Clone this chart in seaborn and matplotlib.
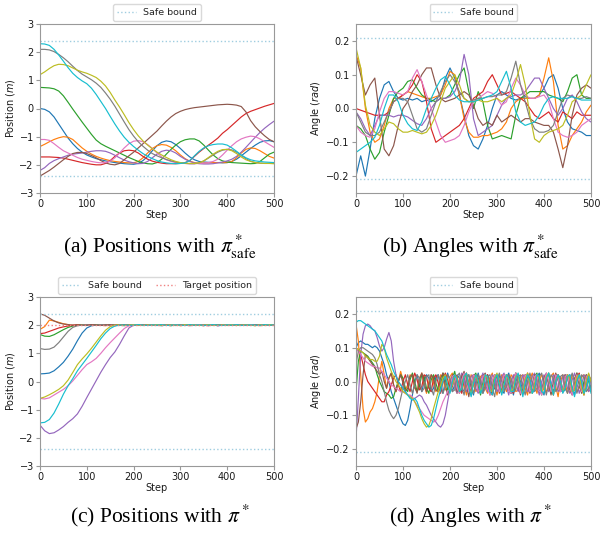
import numpy as np
import pandas as pd
import matplotlib
matplotlib.use("Agg")
import matplotlib.pyplot as plt
import seaborn as sns

# ---------------- data ----------------
run_names = ["r0", "r1", "r2", "r3", "r4", "r5", "r6", "r7", "r8", "r9"]
steps10 = list(range(0, 501, 10))   # sample steps for (a), (b), (c)
steps5 = list(range(0, 501, 5))     # sample steps for (d)
pos_bound = 2.4
ang_bound = 0.21
target_pos = 2.0

# (a) positions with pi*_safe
a_blue = [0.00, -0.03, -0.12, -0.30, -0.55, -0.80, -1.05, -1.25, -1.42, -1.55,
          -1.65, -1.72, -1.78, -1.82, -1.86, -1.89, -1.92, -1.94, -1.96, -1.97,
          -1.98, -1.95, -1.85, -1.70, -1.50, -1.32, -1.20, -1.15, -1.18, -1.28,
          -1.42, -1.58, -1.72, -1.82, -1.88, -1.90, -1.91, -1.92, -1.92, -1.93,
          -1.92, -1.88, -1.80, -1.68, -1.55, -1.42, -1.30, -1.20, -1.15, -1.14, -1.18]
a_orange = [-1.35, -1.27, -1.18, -1.10, -1.04, -1.00, -1.02, -1.10, -1.25, -1.40,
            -1.52, -1.62, -1.70, -1.76, -1.81, -1.85, -1.88, -1.90, -1.92, -1.93,
            -1.93, -1.88, -1.75, -1.58, -1.42, -1.32, -1.28, -1.30, -1.38, -1.50,
            -1.65, -1.78, -1.87, -1.92, -1.95, -1.94, -1.93, -1.92, -1.92, -1.92,
            -1.92, -1.88, -1.75, -1.58, -1.45, -1.40, -1.42, -1.50, -1.60, -1.70, -1.76]
a_green = [0.75, 0.74, 0.73, 0.70, 0.62, 0.45, 0.22, -0.02, -0.25, -0.48,
           -0.70, -0.92, -1.12, -1.25, -1.34, -1.42, -1.50, -1.58, -1.66, -1.74,
           -1.81, -1.88, -1.93, -1.96, -1.97, -1.92, -1.80, -1.62, -1.45, -1.30,
           -1.18, -1.11, -1.08, -1.08, -1.15, -1.30, -1.48, -1.65, -1.78, -1.86,
           -1.90, -1.92, -1.93, -1.94, -1.95, -1.96, -1.95, -1.88, -1.75, -1.62, -1.55]
a_red = [-1.72, -1.72, -1.72, -1.73, -1.74, -1.76, -1.80, -1.84, -1.88, -1.92,
         -1.95, -1.98, -2.00, -2.00, -1.95, -1.85, -1.70, -1.58, -1.50, -1.48,
         -1.50, -1.58, -1.70, -1.80, -1.87, -1.91, -1.94, -1.96, -1.96, -1.96,
         -1.95, -1.92, -1.85, -1.70, -1.55, -1.42, -1.30, -1.18, -1.05, -0.88,
         -0.75, -0.60, -0.45, -0.30, -0.18, -0.10, -0.04, 0.02, 0.08, 0.13, 0.18]
a_purple = [-2.20, -2.10, -1.95, -1.85, -1.78, -1.72, -1.66, -1.62, -1.60, -1.58,
            -1.55, -1.52, -1.50, -1.50, -1.52, -1.58, -1.66, -1.75, -1.83, -1.89,
            -1.93, -1.96, -1.95, -1.88, -1.75, -1.62, -1.52, -1.48, -1.50, -1.58,
            -1.70, -1.80, -1.88, -1.93, -1.96, -1.97, -1.97, -1.96, -1.93, -1.90,
            -1.86, -1.80, -1.70, -1.55, -1.38, -1.20, -1.02, -0.85, -0.70, -0.57, -0.45]
a_brown = [-2.40, -2.30, -2.20, -2.08, -1.95, -1.82, -1.70, -1.60, -1.56, -1.56,
           -1.60, -1.67, -1.75, -1.85, -1.93, -1.98, -2.00, -1.95, -1.82, -1.68,
           -1.55, -1.40, -1.25, -1.10, -0.95, -0.80, -0.62, -0.45, -0.30, -0.18,
           -0.10, -0.04, 0.00, 0.03, 0.05, 0.07, 0.09, 0.11, 0.13, 0.14,
           0.15, 0.14, 0.12, 0.07, -0.12, -0.43, -0.65, -0.82, -0.97, -1.10, -1.18]
a_pink = [-1.10, -1.10, -1.13, -1.25, -1.38, -1.50, -1.58, -1.66, -1.74, -1.80,
          -1.84, -1.88, -1.91, -1.93, -1.92, -1.87, -1.75, -1.58, -1.40, -1.25,
          -1.16, -1.14, -1.18, -1.28, -1.42, -1.58, -1.72, -1.82, -1.88, -1.92,
          -1.94, -1.95, -1.96, -1.96, -1.95, -1.94, -1.92, -1.88, -1.80, -1.65,
          -1.48, -1.32, -1.18, -1.08, -1.02, -0.98, -1.00, -1.08, -1.18, -1.28, -1.38]
a_gray = [2.10, 2.10, 2.08, 2.02, 1.92, 1.80, 1.66, 1.50, 1.35, 1.22,
          1.12, 1.02, 0.90, 0.75, 0.55, 0.33, 0.08, -0.20, -0.48, -0.75,
          -0.98, -1.18, -1.34, -1.48, -1.60, -1.68, -1.75, -1.81, -1.86, -1.90,
          -1.93, -1.95, -1.96, -1.96, -1.93, -1.86, -1.76, -1.65, -1.55, -1.48,
          -1.45, -1.47, -1.55, -1.66, -1.78, -1.87, -1.92, -1.94, -1.95, -1.95, -1.95]
a_olive = [1.20, 1.30, 1.42, 1.52, 1.57, 1.56, 1.52, 1.44, 1.36, 1.30,
           1.25, 1.18, 1.10, 0.97, 0.80, 0.57, 0.30, 0.05, -0.22, -0.50,
           -0.75, -0.97, -1.15, -1.30, -1.43, -1.55, -1.65, -1.74, -1.82, -1.88,
           -1.92, -1.94, -1.95, -1.95, -1.93, -1.86, -1.74, -1.62, -1.52, -1.46,
           -1.45, -1.50, -1.60, -1.72, -1.82, -1.88, -1.92, -1.94, -1.95, -1.95, -1.96]
a_cyan = [2.30, 2.29, 2.24, 2.10, 1.90, 1.68, 1.45, 1.25, 1.10, 0.98,
          0.88, 0.72, 0.50, 0.25, 0.00, -0.28, -0.55, -0.80, -1.02, -1.20,
          -1.35, -1.48, -1.60, -1.70, -1.78, -1.85, -1.90, -1.93, -1.95, -1.96,
          -1.95, -1.93, -1.85, -1.68, -1.52, -1.40, -1.32, -1.28, -1.26, -1.26,
          -1.30, -1.40, -1.52, -1.65, -1.75, -1.82, -1.86, -1.88, -1.90, -1.91, -1.92]

# (b) angles with pi*_safe
b_blue = [-0.20, -0.14, -0.20, -0.12, -0.03, 0.03, 0.07, 0.08, 0.05, 0.03,
          0.025, 0.03, 0.025, 0.03, 0.02, 0.025, 0.02, 0.03, 0.04, 0.09,
          0.12, 0.09, 0.04, -0.02, -0.08, -0.11, -0.12, -0.09, -0.05, 0.00,
          0.04, 0.05, 0.04, 0.03, 0.025, 0.03, 0.035, 0.03, 0.03, 0.04,
          0.06, 0.09, 0.10, 0.06, 0.00, -0.04, -0.06, -0.065, -0.07, -0.08, -0.08]
b_orange = [0.16, 0.12, 0.00, -0.07, -0.10, -0.09, -0.05, 0.00, 0.03, 0.03,
            0.04, 0.05, 0.045, 0.04, 0.035, 0.03, 0.03, 0.035, 0.04, 0.07,
            0.11, 0.10, 0.04, -0.03, -0.07, -0.085, -0.085, -0.08, -0.08, -0.075,
            -0.07, -0.06, -0.04, 0.00, 0.02, 0.03, 0.03, 0.03, 0.03, 0.04,
            0.09, 0.15, 0.08, -0.05, -0.12, -0.11, -0.08, -0.06, -0.04, -0.01, 0.01]
b_green = [-0.05, -0.06, -0.08, -0.12, -0.15, -0.13, -0.07, -0.02, 0.03, 0.05,
           0.06, 0.08, 0.085, 0.06, 0.04, 0.03, 0.025, 0.02, 0.03, 0.03,
           0.04, 0.07, 0.10, 0.12, 0.05, 0.00, 0.05, 0.02, -0.05, -0.09,
           -0.085, -0.08, -0.085, -0.09, -0.02, 0.03, 0.04, 0.05, 0.05, 0.05,
           0.05, 0.04, 0.035, 0.03, 0.02, 0.05, 0.09, 0.10, 0.04, 0.03, 0.03]
b_red = [0.00, -0.005, -0.01, -0.015, -0.02, -0.02, -0.02, -0.01, 0.02, 0.03,
         0.04, 0.05, 0.07, 0.10, 0.08, 0.02, -0.06, -0.10, -0.09, -0.08,
         -0.07, -0.06, -0.05, -0.03, 0.00, 0.03, 0.04, 0.05, 0.08, 0.10,
         0.07, 0.04, 0.045, 0.05, 0.04, 0.03, 0.02, 0.00, -0.02, -0.03,
         -0.02, -0.01, -0.03, -0.04, -0.01, -0.02, -0.03, -0.01, -0.02, -0.02, -0.02]
b_purple = [-0.01, -0.03, -0.06, -0.08, -0.05, -0.02, -0.02, -0.02, -0.025, -0.02,
            -0.02, -0.025, -0.035, -0.045, -0.05, -0.03, 0.00, 0.02, 0.03, 0.03,
            0.035, 0.05, 0.08, 0.16, 0.10, -0.03, -0.08, -0.07, -0.06, -0.05,
            -0.02, 0.01, 0.03, 0.035, 0.04, 0.04, 0.05, 0.07, 0.09, 0.09,
            0.06, 0.03, 0.00, -0.02, 0.00, 0.03, 0.04, 0.02, -0.01, -0.03, -0.04]
b_brown = [0.155, 0.10, 0.04, 0.07, 0.09, -0.02, -0.12, -0.14, -0.11, -0.05,
           0.00, 0.02, 0.05, 0.07, 0.10, 0.12, 0.12, 0.07, 0.03, 0.02,
           0.025, 0.03, 0.04, 0.05, 0.04, 0.01, -0.03, -0.05, -0.04, -0.05,
           -0.02, -0.04, -0.03, -0.02, -0.03, -0.04, -0.03, -0.03, -0.04, -0.045,
           -0.05, -0.05, -0.07, -0.12, -0.175, -0.11, -0.02, 0.04, 0.06, 0.07, 0.06]
b_pink = [-0.05, -0.07, -0.08, -0.085, -0.06, -0.01, 0.03, 0.05, 0.05, 0.045,
          0.04, 0.05, 0.09, 0.115, 0.08, 0.04, 0.00, -0.04, -0.08, -0.10,
          -0.095, -0.09, -0.08, -0.05, -0.01, 0.02, 0.03, 0.04, 0.05, 0.045,
          0.03, 0.01, 0.02, 0.06, 0.09, 0.07, 0.04, 0.03, 0.03, 0.035,
          0.04, 0.02, -0.03, -0.07, -0.08, -0.085, -0.08, -0.07, -0.05, -0.04, -0.03]
b_gray = [-0.01, -0.04, -0.07, -0.08, -0.08, -0.07, -0.04, -0.01, 0.02, 0.03,
          0.03, 0.02, -0.02, -0.06, -0.07, -0.06, -0.02, 0.02, 0.05, 0.08,
          0.10, 0.08, 0.05, 0.03, 0.02, 0.025, 0.03, 0.03, 0.035, 0.035,
          0.04, 0.04, 0.05, 0.09, 0.14, 0.07, 0.02, -0.03, -0.06, -0.07,
          -0.07, -0.065, -0.05, -0.01, 0.03, 0.04, 0.035, 0.03, 0.03, 0.035, 0.03]
b_olive = [0.18, 0.12, 0.01, -0.05, -0.07, -0.08, -0.06, -0.04, -0.045, -0.06,
           -0.07, -0.07, -0.065, -0.07, -0.075, -0.07, -0.05, -0.02, 0.02, 0.06,
           0.08, 0.10, 0.07, 0.03, 0.02, 0.02, 0.025, 0.02, 0.02, 0.025,
           0.03, 0.02, 0.03, 0.04, 0.08, 0.13, 0.07, -0.02, -0.09, -0.10,
           -0.08, -0.07, -0.065, -0.06, -0.05, -0.02, 0.02, 0.03, 0.04, 0.07, 0.10]
b_cyan = [-0.13, -0.12, -0.11, -0.10, -0.085, -0.05, 0.00, 0.04, 0.04, 0.02,
          -0.02, -0.045, -0.06, -0.065, -0.04, 0.00, 0.03, 0.06, 0.085, 0.095,
          0.07, 0.04, 0.025, 0.02, 0.02, 0.02, 0.025, 0.03, 0.035, 0.04,
          0.05, 0.08, 0.11, 0.06, -0.01, -0.04, -0.05, -0.045, -0.04, -0.02,
          0.01, 0.03, 0.035, 0.03, 0.03, 0.03, 0.035, 0.03, 0.025, 0.025, 0.025]

# (c) positions with pi*
c_blue = [0.27, 0.28, 0.30, 0.38, 0.52, 0.68, 0.90, 1.15, 1.45, 1.72,
          1.90, 1.98, 2.00, 2.01, 1.99, 2.00, 2.02, 1.99, 2.00, 2.01,
          1.99, 2.02, 2.00, 1.99, 2.01, 2.00, 1.98, 2.01, 2.02, 1.99,
          2.00, 2.01, 1.99, 2.00, 2.02, 1.99, 2.00, 2.01, 1.98, 2.00,
          2.02, 2.00, 1.99, 2.01, 2.00, 1.99, 2.02, 2.00, 1.99, 2.01, 2.00]
c_orange = [1.85, 1.95, 2.18, 2.15, 2.10, 2.05, 2.02, 1.99, 2.01, 2.00,
            1.99, 2.01, 2.02, 2.00, 1.98, 2.01, 2.00, 2.02, 1.99, 2.00,
            2.01, 1.99, 2.02, 2.00, 1.99, 2.01, 2.02, 1.99, 2.00, 2.01,
            1.98, 2.00, 2.02, 2.01, 1.99, 2.00, 2.01, 1.99, 2.02, 2.00,
            1.99, 2.01, 2.00, 2.02, 1.99, 2.00, 2.01, 1.98, 2.00, 2.02, 2.00]
c_green = [1.67, 1.61, 1.60, 1.66, 1.75, 1.84, 1.92, 1.97, 2.00, 2.01,
           1.99, 2.00, 2.02, 1.99, 2.01, 2.00, 1.98, 2.01, 2.02, 2.00,
           1.99, 2.01, 2.00, 2.02, 1.99, 2.00, 2.01, 2.00, 1.98, 2.01,
           2.02, 1.99, 2.00, 2.01, 1.99, 2.02, 2.00, 1.99, 2.01, 2.00,
           2.02, 1.99, 2.00, 2.01, 1.99, 2.00, 2.02, 2.00, 1.99, 2.01, 2.00]
c_red = [1.70, 1.72, 1.78, 1.84, 1.90, 1.94, 1.97, 2.00, 2.01, 1.99,
         2.01, 2.02, 1.99, 2.00, 2.01, 1.98, 2.00, 2.02, 2.01, 1.99,
         2.00, 2.02, 1.99, 2.01, 2.00, 1.99, 2.02, 2.00, 2.01, 1.99,
         2.00, 2.02, 1.99, 2.00, 2.01, 2.00, 1.98, 2.01, 2.00, 2.02,
         1.99, 2.00, 2.01, 1.99, 2.02, 2.00, 1.99, 2.01, 2.00, 1.99, 2.01]
c_purple = [-1.55, -1.75, -1.85, -1.82, -1.72, -1.60, -1.45, -1.32, -1.15, -0.88,
            -0.57, -0.27, 0.03, 0.33, 0.60, 0.85, 1.05, 1.32, 1.62, 1.90,
            2.00, 2.01, 1.99, 2.02, 2.00, 1.99, 2.01, 2.00, 2.02, 1.99,
            2.00, 2.01, 1.98, 2.00, 2.02, 2.00, 1.99, 2.01, 2.00, 2.02,
            1.99, 2.00, 2.01, 1.99, 2.02, 2.00, 1.99, 2.01, 2.00, 2.02, 2.00]
c_brown = [2.40, 2.35, 2.25, 2.15, 2.08, 2.04, 2.02, 2.00, 2.01, 1.99,
           2.00, 2.02, 2.00, 1.99, 2.01, 2.02, 2.00, 1.99, 2.01, 2.00,
           2.02, 1.99, 2.00, 2.01, 1.99, 2.02, 2.00, 2.01, 1.99, 2.00,
           2.02, 2.00, 1.99, 2.01, 2.00, 1.98, 2.02, 2.00, 2.01, 1.99,
           2.00, 2.02, 1.99, 2.00, 2.01, 2.00, 1.99, 2.02, 2.00, 2.01, 1.99]
c_pink = [-0.60, -0.62, -0.58, -0.48, -0.38, -0.28, -0.15, 0.02, 0.22, 0.42,
          0.60, 0.70, 0.82, 1.00, 1.20, 1.38, 1.55, 1.72, 1.88, 1.98,
          2.00, 2.01, 1.99, 2.00, 2.02, 1.99, 2.01, 2.00, 1.99, 2.02,
          2.00, 1.99, 2.01, 2.00, 2.02, 2.00, 1.99, 2.01, 1.98, 2.00,
          2.02, 2.00, 1.99, 2.01, 2.00, 2.02, 1.99, 2.00, 2.01, 1.99, 2.00]
c_gray = [1.17, 1.14, 1.15, 1.22, 1.38, 1.58, 1.78, 1.92, 1.98, 2.00,
          2.01, 1.99, 2.00, 2.02, 2.00, 1.99, 2.01, 2.00, 1.98, 2.01,
          2.00, 2.02, 1.99, 2.00, 2.01, 1.99, 2.00, 2.02, 2.00, 1.99,
          2.01, 2.00, 2.02, 1.99, 2.00, 2.01, 2.00, 1.99, 2.02, 2.00,
          2.01, 1.99, 2.00, 2.02, 2.00, 1.99, 2.01, 2.00, 2.02, 1.99, 2.00]
c_olive = [-0.60, -0.55, -0.47, -0.38, -0.28, -0.15, 0.05, 0.32, 0.60, 0.80,
           0.98, 1.18, 1.40, 1.62, 1.82, 1.95, 2.00, 2.01, 1.99, 2.00,
           2.02, 2.00, 1.99, 2.01, 2.00, 2.02, 1.99, 2.00, 2.01, 2.00,
           1.99, 2.02, 2.00, 2.01, 1.99, 2.00, 2.02, 2.00, 1.99, 2.01,
           2.00, 2.02, 1.99, 2.00, 2.01, 2.00, 1.98, 2.01, 2.00, 2.02, 2.00]
c_cyan = [-1.47, -1.45, -1.35, -1.12, -0.80, -0.45, -0.15, 0.10, 0.38, 0.60,
          0.82, 1.05, 1.28, 1.52, 1.72, 1.88, 1.97, 2.00, 2.01, 1.99,
          2.00, 2.02, 2.00, 1.99, 2.01, 2.00, 2.02, 1.99, 2.00, 2.01,
          2.00, 1.99, 2.02, 2.00, 2.01, 1.99, 2.00, 2.02, 2.00, 1.99,
          2.01, 2.00, 2.02, 1.99, 2.00, 2.01, 2.00, 1.99, 2.02, 2.00, 2.01]

# (d) angles with pi*
d_blue = [0.10, 0.115, 0.12, 0.115, 0.11, 0.11, 0.105, 0.10, 0.105, 0.10,
          0.09, 0.07, 0.05, 0.02, 0.00, -0.03, -0.05, -0.07, -0.09, -0.11,
          -0.125, -0.13, -0.115, -0.08, -0.04, 0.00, 0.02, -0.01, -0.03, 0.00,
          0.02, 0.01, -0.03, -0.02, 0.015, 0.02, -0.02, -0.035, 0.00, 0.025,
          0.00, -0.03, -0.01, 0.02, 0.01, -0.03, -0.025, 0.015, 0.02, -0.02,
          -0.04, 0.00, 0.025, -0.005, -0.035, -0.01, 0.02, 0.005, -0.03, -0.02,
          0.015, 0.02, -0.025, -0.035, 0.01, 0.025, -0.01, -0.04, 0.00, 0.02,
          0.00, -0.03, -0.015, 0.02, 0.01, -0.035, -0.02, 0.015, 0.025, -0.02,
          -0.04, 0.005, 0.025, -0.005, -0.03, -0.01, 0.02, 0.01, -0.03, -0.025,
          0.015, 0.02, -0.02, -0.04, 0.00, 0.02, -0.005, -0.035, -0.01, 0.02,
          0.00]
d_orange = [0.17, 0.12, 0.02, -0.08, -0.12, -0.11, -0.09, -0.08, -0.06, -0.03,
            0.02, 0.06, 0.02, -0.02, 0.01, 0.025, -0.01, -0.03, 0.00, 0.03,
            0.005, -0.025, -0.01, 0.02, 0.015, -0.02, -0.03, 0.01, 0.025, -0.01,
            -0.035, 0.00, 0.02, -0.005, -0.03, -0.015, 0.02, 0.01, -0.025, -0.02,
            0.015, 0.025, -0.015, -0.035, 0.005, 0.02, -0.01, -0.04, -0.005, 0.02,
            0.005, -0.03, -0.02, 0.015, 0.02, -0.02, -0.035, 0.01, 0.025, -0.01,
            -0.04, -0.005, 0.02, 0.00, -0.03, -0.015, 0.02, 0.01, -0.03, -0.025,
            0.015, 0.02, -0.02, -0.04, 0.005, 0.025, -0.01, -0.035, 0.00, 0.02,
            0.005, -0.03, -0.02, 0.015, 0.025, -0.015, -0.045, 0.00, 0.02, -0.005,
            -0.035, -0.01, 0.02, 0.01, -0.03, -0.02, 0.015, 0.02, -0.02, -0.03,
            0.01]
d_green = [-0.03, 0.06, 0.09, 0.085, 0.08, 0.075, 0.065, 0.055, 0.045, 0.02,
           0.00, -0.015, -0.03, -0.035, -0.04, -0.05, -0.045, -0.02, 0.00, 0.02,
           0.01, -0.02, -0.03, 0.005, 0.025, 0.00, -0.03, -0.015, 0.02, 0.015,
           -0.02, -0.035, 0.005, 0.02, -0.005, -0.03, -0.01, 0.025, 0.015, -0.025,
           -0.03, 0.01, 0.03, -0.005, -0.035, -0.01, 0.02, 0.01, -0.03, -0.02,
           0.015, 0.025, -0.015, -0.04, 0.00, 0.02, 0.00, -0.03, -0.015, 0.02,
           0.015, -0.025, -0.03, 0.01, 0.02, -0.01, -0.035, 0.00, 0.025, 0.00,
           -0.03, -0.015, 0.02, 0.01, -0.03, -0.02, 0.015, 0.025, -0.015, -0.04,
           0.00, 0.02, -0.005, -0.035, -0.01, 0.02, 0.01, -0.03, -0.025, 0.015,
           0.02, -0.02, -0.035, 0.005, 0.025, -0.01, -0.03, 0.00, 0.02, 0.00,
           -0.03]
d_red = [0.10, 0.09, 0.08, 0.05, 0.02, 0.00, -0.01, -0.02, -0.03, -0.04,
         -0.05, -0.06, -0.06, -0.04, -0.03, -0.01, 0.01, 0.02, -0.01, -0.03,
         0.00, 0.02, -0.01, -0.03, 0.00, 0.025, 0.005, -0.025, -0.015, 0.02,
         0.015, -0.02, -0.03, 0.01, 0.02, -0.005, -0.035, 0.00, 0.025, 0.005,
         -0.03, -0.015, 0.02, 0.015, -0.02, -0.035, 0.005, 0.025, -0.005, -0.03,
         -0.01, 0.02, 0.01, -0.03, -0.025, 0.015, 0.02, -0.015, -0.04, 0.00,
         0.02, 0.00, -0.03, -0.015, 0.02, 0.015, -0.025, -0.035, 0.01, 0.02,
         -0.01, -0.035, 0.00, 0.025, 0.00, -0.03, -0.015, 0.02, 0.01, -0.03,
         -0.02, 0.015, 0.02, -0.02, -0.04, 0.005, 0.02, -0.005, -0.03, -0.01,
         0.02, 0.01, -0.03, -0.025, 0.015, 0.025, -0.015, -0.04, 0.00, 0.02,
         0.00]
d_purple = [-0.17, -0.05, 0.08, 0.14, 0.165, 0.17, 0.165, 0.155, 0.15, 0.13,
            0.105, 0.09, 0.10, 0.125, 0.145, 0.12, 0.06, 0.02, 0.00, -0.01,
            -0.02, -0.03, -0.04, -0.045, -0.05, -0.05, -0.045, -0.04, -0.045, -0.06,
            -0.07, -0.085, -0.10, -0.11, -0.12, -0.13, -0.135, -0.125, -0.10, -0.06,
            -0.02, 0.01, -0.015, -0.035, 0.00, 0.025, 0.005, -0.03, -0.02, 0.015,
            0.02, -0.02, -0.035, 0.005, 0.025, -0.005, -0.03, -0.01, 0.02, 0.01,
            -0.03, -0.02, 0.015, 0.025, -0.015, -0.04, 0.00, 0.02, 0.00, -0.03,
            -0.015, 0.02, 0.01, -0.03, -0.025, 0.015, 0.025, -0.015, -0.04, 0.00,
            0.02, 0.00, -0.03, -0.015, 0.02, 0.01, -0.03, -0.02, 0.015, 0.02,
            -0.02, -0.035, 0.005, 0.025, -0.005, -0.035, -0.01, 0.02, 0.01, -0.03,
            -0.02]
d_brown = [-0.14, -0.12, -0.06, 0.02, 0.08, 0.07, 0.06, 0.05, 0.04, 0.03,
           0.02, 0.03, 0.00, -0.02, 0.01, 0.025, -0.01, -0.03, 0.00, 0.02,
           -0.005, -0.03, -0.02, 0.015, 0.02, -0.015, -0.035, 0.005, 0.025, -0.005,
           -0.03, -0.01, 0.02, 0.01, -0.025, -0.03, 0.01, 0.025, -0.01, -0.04,
           -0.005, 0.02, 0.01, -0.03, -0.02, 0.015, 0.03, -0.01, -0.045, -0.005,
           0.02, 0.005, -0.03, -0.02, 0.015, 0.025, -0.015, -0.04, 0.00, 0.02,
           0.005, -0.035, -0.02, 0.02, 0.015, -0.025, -0.035, 0.01, 0.025, -0.01,
           -0.04, -0.005, 0.02, 0.00, -0.035, -0.015, 0.02, 0.015, -0.025, -0.03,
           0.01, 0.025, -0.01, -0.04, 0.00, 0.025, 0.005, -0.03, -0.02, 0.02,
           0.015, -0.025, -0.04, 0.005, 0.025, -0.005, -0.035, -0.01, 0.02, 0.01,
           -0.02]
d_pink = [0.10, 0.09, 0.08, 0.07, 0.06, 0.055, 0.05, 0.045, 0.045, 0.04,
          0.04, 0.03, 0.02, 0.01, 0.00, -0.01, -0.015, -0.02, -0.025, -0.03,
          -0.03, -0.035, -0.04, -0.04, -0.045, -0.06, -0.07, -0.08, -0.09, -0.10,
          -0.105, -0.11, -0.115, -0.12, -0.115, -0.10, -0.08, -0.06, -0.045, -0.03,
          -0.02, 0.015, 0.02, -0.02, -0.035, 0.005, 0.025, -0.005, -0.03, -0.015,
          0.02, 0.01, -0.03, -0.025, 0.015, 0.02, -0.02, -0.04, 0.00, 0.02,
          0.00, -0.03, -0.015, 0.02, 0.015, -0.025, -0.035, 0.005, 0.025, -0.005,
          -0.035, -0.01, 0.02, 0.005, -0.03, -0.02, 0.015, 0.02, -0.02, -0.04,
          0.00, 0.025, 0.00, -0.03, -0.015, 0.02, 0.01, -0.03, -0.025, 0.015,
          0.02, -0.015, -0.04, 0.00, 0.02, 0.00, -0.03, -0.02, 0.015, 0.02,
          -0.01]
d_gray = [0.05, 0.09, 0.10, 0.10, 0.095, 0.09, 0.085, 0.08, 0.07, 0.05,
          0.02, 0.00, -0.03, -0.06, -0.085, -0.10, -0.11, -0.10, -0.08, -0.05,
          -0.02, 0.00, 0.02, -0.01, -0.035, -0.01, 0.02, 0.01, -0.03, -0.02,
          0.015, 0.02, -0.02, -0.04, 0.00, 0.02, 0.00, -0.035, -0.015, 0.02,
          0.01, -0.03, -0.025, 0.015, 0.025, -0.015, -0.04, 0.005, 0.02, -0.005,
          -0.035, -0.01, 0.02, 0.005, -0.035, -0.02, 0.015, 0.02, -0.02, -0.045,
          0.00, 0.025, 0.00, -0.03, -0.015, 0.02, 0.01, -0.03, -0.025, 0.015,
          0.02, -0.015, -0.04, 0.00, 0.025, 0.00, -0.03, -0.02, 0.015, 0.025,
          -0.01, -0.04, -0.005, 0.02, 0.01, -0.03, -0.02, 0.015, 0.02, -0.02,
          -0.035, 0.005, 0.025, -0.005, -0.035, -0.01, 0.02, 0.01, -0.03, -0.02,
          0.01]
d_olive = [0.10, 0.095, 0.09, 0.085, 0.075, 0.07, 0.065, 0.065, 0.06, 0.06,
           0.075, 0.11, 0.10, 0.07, 0.05, 0.03, 0.015, 0.00, -0.01, -0.02,
           -0.03, -0.035, -0.04, -0.045, -0.05, -0.06, -0.075, -0.09, -0.11, -0.125,
           -0.135, -0.13, -0.11, -0.08, -0.055, -0.03, -0.01, 0.01, 0.02, -0.01,
           -0.03, -0.01, 0.02, 0.01, -0.03, -0.02, 0.015, 0.025, -0.015, -0.04,
           0.00, 0.02, 0.00, -0.03, -0.015, 0.02, 0.01, -0.025, -0.03, 0.01,
           0.025, -0.005, -0.035, -0.01, 0.02, 0.005, -0.03, -0.02, 0.015, 0.02,
           -0.02, -0.035, 0.005, 0.025, -0.005, -0.035, -0.01, 0.02, 0.01, -0.03,
           -0.02, 0.015, 0.025, -0.015, -0.04, 0.00, 0.02, 0.00, -0.03, -0.015,
           0.02, 0.01, -0.03, -0.025, 0.015, 0.02, -0.02, -0.04, 0.00, 0.025,
           0.00]
d_cyan = [0.175, 0.18, 0.18, 0.175, 0.17, 0.165, 0.16, 0.155, 0.15, 0.14,
          0.13, 0.12, 0.10, 0.08, 0.065, 0.05, 0.03, 0.015, 0.00, -0.01,
          -0.02, -0.03, -0.04, -0.05, -0.055, -0.05, -0.06, -0.08, -0.10, -0.115,
          -0.125, -0.135, -0.13, -0.11, -0.08, -0.05, -0.025, 0.00, 0.015, -0.01,
          -0.035, 0.00, 0.02, 0.005, -0.03, -0.02, 0.015, 0.025, -0.015, -0.045,
          -0.005, 0.02, 0.005, -0.035, -0.02, 0.02, 0.015, -0.03, -0.04, 0.005,
          0.02, -0.01, -0.04, -0.01, 0.02, 0.01, -0.03, -0.03, 0.01, 0.025,
          -0.01, -0.045, -0.005, 0.02, 0.005, -0.035, -0.02, 0.02, 0.015, -0.03,
          -0.035, 0.01, 0.025, -0.01, -0.04, 0.00, 0.02, 0.00, -0.035, -0.02,
          0.015, 0.02, -0.02, -0.045, 0.00, 0.02, 0.00, -0.035, -0.02, 0.015,
          -0.035]

a_runs = [a_blue, a_orange, a_green, a_red, a_purple, a_brown, a_pink, a_gray, a_olive, a_cyan]
b_runs = [b_blue, b_orange, b_green, b_red, b_purple, b_brown, b_pink, b_gray, b_olive, b_cyan]
c_runs = [c_blue, c_orange, c_green, c_red, c_purple, c_brown, c_pink, c_gray, c_olive, c_cyan]
d_runs = [d_blue, d_orange, d_green, d_red, d_purple, d_brown, d_pink, d_gray, d_olive, d_cyan]

captions = [r"(a) Positions with $\pi^*_{\mathrm{safe}}$",
            r"(b) Angles with $\pi^*_{\mathrm{safe}}$",
            r"(c) Positions with $\pi^*$",
            r"(d) Angles with $\pi^*$"]


def long_frame(runs, steps):
    rows = []
    for name, vals in zip(run_names, runs):
        assert len(vals) == len(steps), (name, len(vals), len(steps))
        rows.append(pd.DataFrame({"Step": steps, "value": vals, "run": name}))
    return pd.concat(rows, ignore_index=True)


# ---------------- style ----------------
sns.set_theme(style="ticks")
plt.rcParams.update({
    "font.family": ["DejaVu Sans"],
    "mathtext.fontset": "dejavusans",
    "axes.edgecolor": "0.6",
    "axes.linewidth": 0.8,
    "xtick.color": "0.6",
    "ytick.color": "0.6",
    "xtick.labelcolor": "0.1",
    "ytick.labelcolor": "0.1",
    "xtick.major.size": 3,
    "ytick.major.size": 3,
    "xtick.major.width": 0.8,
    "ytick.major.width": 0.8,
    "axes.labelcolor": "0.1",
    "font.size": 7.0,
    "xtick.labelsize": 7.0,
    "ytick.labelsize": 7.0,
    "axes.labelsize": 7.0,
    "legend.fontsize": 6.8,
})

W, H = 611, 533
fig = plt.figure(figsize=(W / 100, H / 100), dpi=100)


def add_ax(left, top, right, bottom):
    return fig.add_axes([left / W, 1 - bottom / H, (right - left) / W, (bottom - top) / H])


axes = [add_ax(40, 24, 274, 193), add_ax(356, 24, 591, 193),
        add_ax(40, 297, 274, 466), add_ax(356, 297, 591, 466)]

palette = sns.color_palette("tab10", 10)
bound_color = "#9fcde0"

panels = [(a_runs, steps10, "pos"), (b_runs, steps10, "ang"),
          (c_runs, steps10, "pos"), (d_runs, steps5, "ang")]

for i, (ax, (runs, steps, kind)) in enumerate(zip(axes, panels)):
    df = long_frame(runs, steps)
    sns.lineplot(data=df, x="Step", y="value", hue="run", palette=palette,
                 linewidth=0.85, legend=False, ax=ax, estimator=None)
    bound = pos_bound if kind == "pos" else ang_bound
    h1 = ax.axhline(bound, color=bound_color, linestyle=":", linewidth=1.0, label="Safe bound")
    ax.axhline(-bound, color=bound_color, linestyle=":", linewidth=1.0)
    handles = [h1]
    if i == 2:
        h2 = ax.axhline(target_pos, color="#f08080", linestyle=":", linewidth=1.0,
                        label="Target position")
        handles.append(h2)
    ax.set_xlim(0, 500)
    ax.set_xticks([0, 100, 200, 300, 400, 500])
    if kind == "pos":
        ax.set_ylim(-3, 3)
        ax.set_yticks([-3, -2, -1, 0, 1, 2, 3])
        ax.set_ylabel("Position ($m$)", labelpad=2)
    else:
        ax.set_ylim(-0.25, 0.25)
        ax.set_yticks([-0.2, -0.1, 0.0, 0.1, 0.2])
        ax.set_ylabel("Angle ($rad$)", labelpad=2)
    ax.set_xlabel("Step", labelpad=0.5)
    ax.tick_params(pad=1.5)
    ax.legend(handles=handles, loc="lower center", bbox_to_anchor=(0.5, 1.02),
              ncol=len(handles), frameon=True, fancybox=True, framealpha=1,
              edgecolor="0.85", borderpad=0.4, handlelength=2.0,
              columnspacing=1.5, borderaxespad=0)

cap_pos = [(160, 247), (471, 247), (160, 516), (471, 516)]
for (cx, cy), txt in zip(cap_pos, captions):
    fig.text(cx / W, 1 - cy / H, txt, ha="center", va="center",
             fontsize=15.5, family=["Liberation Serif", "DejaVu Serif"],
             math_fontfamily="stix", color="black")

fig.savefig("out.png", dpi=100)
